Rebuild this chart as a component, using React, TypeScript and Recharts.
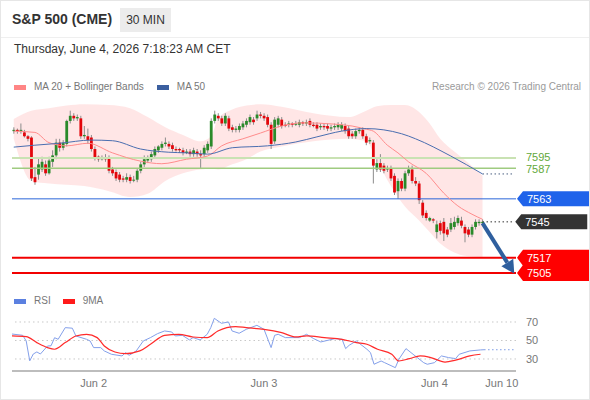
import React from "react";
import {
  ComposedChart,
  LineChart,
  Bar,
  Line,
  Area,
  XAxis,
  YAxis,
  ReferenceLine,
} from "recharts";

// 30-minute candles, oldest first
const opens = [
  7616, 7617, 7616, 7615, 7612, 7611, 7580, 7582, 7586, 7590, 7583, 7592, 7597, 7607, 7603, 7606, 7624, 7628, 7626, 7626,
  7612, 7612, 7611, 7602, 7596, 7594, 7595, 7595, 7586, 7584, 7582, 7579, 7578, 7580, 7578, 7578, 7585, 7590, 7593, 7594,
  7597, 7601, 7603, 7606, 7606, 7605, 7602, 7602, 7601, 7599, 7600, 7598, 7600, 7598, 7598, 7601, 7604, 7624, 7628, 7626,
  7622, 7626, 7619, 7617, 7617, 7619, 7621, 7623, 7625, 7626, 7629, 7628, 7627, 7621, 7608, 7621, 7625, 7621, 7621, 7622,
  7621, 7621, 7623, 7622, 7624, 7621, 7621, 7619, 7620, 7620, 7618, 7619, 7619, 7618, 7620, 7618, 7614, 7612, 7616, 7617,
  7612, 7608, 7607, 7586, 7591, 7589, 7586, 7587, 7581, 7569, 7577, 7571, 7583, 7586, 7577, 7575, 7560, 7552, 7546, 7547,
  7537, 7544, 7545, 7539, 7539, 7541, 7544, 7546, 7541, 7539, 7535, 7541, 7544, 7544,
];
const highs = [
  7619, 7618, 7622, 7617, 7613, 7612, 7588, 7595, 7596, 7593, 7596, 7601, 7610, 7610, 7609, 7625, 7632, 7630, 7629, 7628,
  7620, 7618, 7613, 7604, 7597, 7597, 7598, 7597, 7588, 7586, 7584, 7581, 7583, 7582, 7581, 7587, 7592, 7597, 7597, 7600,
  7604, 7605, 7608, 7611, 7608, 7607, 7604, 7603, 7603, 7602, 7602, 7603, 7602, 7601, 7605, 7608, 7626, 7632, 7630, 7628,
  7630, 7628, 7621, 7620, 7622, 7624, 7626, 7629, 7627, 7632, 7631, 7630, 7629, 7623, 7627, 7628, 7627, 7623, 7624, 7623,
  7624, 7625, 7624, 7625, 7626, 7623, 7623, 7622, 7622, 7622, 7621, 7622, 7623, 7623, 7622, 7620, 7616, 7618, 7619, 7619,
  7614, 7611, 7609, 7594, 7598, 7591, 7589, 7589, 7583, 7579, 7579, 7585, 7589, 7589, 7580, 7577, 7562, 7554, 7549, 7548,
  7546, 7546, 7548, 7541, 7548, 7549, 7550, 7549, 7543, 7541, 7543, 7547, 7547, 7547,
];
const lows = [
  7614, 7614, 7614, 7611, 7608, 7577, 7574, 7578, 7584, 7581, 7582, 7588, 7594, 7600, 7601, 7604, 7622, 7624, 7624, 7610,
  7610, 7606, 7600, 7593, 7592, 7593, 7592, 7583, 7581, 7577, 7576, 7576, 7576, 7575, 7576, 7576, 7583, 7588, 7591, 7592,
  7595, 7599, 7601, 7604, 7602, 7600, 7600, 7599, 7597, 7598, 7596, 7596, 7596, 7587, 7596, 7599, 7602, 7622, 7624, 7620,
  7620, 7616, 7615, 7615, 7615, 7617, 7619, 7621, 7621, 7624, 7626, 7624, 7619, 7602, 7606, 7619, 7618, 7619, 7619, 7619,
  7620, 7619, 7620, 7620, 7619, 7619, 7616, 7617, 7617, 7616, 7616, 7617, 7617, 7616, 7614, 7610, 7610, 7610, 7614, 7610,
  7605, 7606, 7575, 7584, 7584, 7583, 7584, 7577, 7566, 7563, 7569, 7569, 7581, 7575, 7573, 7559, 7548, 7546, 7545, 7544,
  7532, 7535, 7530, 7533, 7537, 7539, 7542, 7540, 7529, 7533, 7533, 7539, 7542, 7543,
];
const closes = [
  7617, 7616, 7617, 7612, 7610, 7579, 7576, 7590, 7592, 7583, 7593, 7597, 7607, 7603, 7607, 7624, 7628, 7626, 7627, 7612,
  7613, 7609, 7602, 7595, 7594, 7595, 7594, 7585, 7583, 7579, 7578, 7578, 7580, 7577, 7578, 7585, 7590, 7594, 7595, 7598,
  7602, 7604, 7606, 7607, 7604, 7602, 7601, 7601, 7599, 7600, 7598, 7601, 7598, 7597, 7603, 7606, 7624, 7629, 7626, 7622,
  7628, 7618, 7617, 7618, 7620, 7622, 7624, 7627, 7623, 7629, 7628, 7626, 7621, 7606, 7625, 7626, 7620, 7620, 7622, 7621,
  7622, 7623, 7622, 7623, 7621, 7620, 7618, 7620, 7619, 7618, 7619, 7620, 7621, 7621, 7616, 7612, 7612, 7616, 7617, 7612,
  7607, 7609, 7589, 7591, 7586, 7585, 7587, 7579, 7568, 7577, 7571, 7583, 7586, 7577, 7575, 7562, 7550, 7548, 7548, 7546,
  7543, 7538, 7536, 7535, 7544, 7545, 7548, 7542, 7536, 7535, 7541, 7545, 7545, 7545,
];

// slots on the time axis, including the empty ones after the last candle
const slotCount = 143;

// indicator readings as [slot, value]
const ma20Pts = [
  [0, 7616], [6, 7615], [10, 7607], [15, 7604.5], [21, 7606.5], [28, 7599], [36, 7592.5], [42, 7590.5],
  [49, 7594], [55, 7596.5], [59, 7604.5], [65, 7610], [70, 7614.5], [76, 7620], [82, 7622.5], [91, 7621.5],
  [96, 7620], [100, 7617.5], [102, 7616], [106, 7605], [109, 7599], [112, 7592], [117, 7583], [122, 7567.5],
  [126, 7557.5], [130, 7551], [133, 7547],
];
const ma50Pts = [
  [0, 7603.5], [6, 7605], [13, 7606.5], [22, 7609], [28, 7608.5], [36, 7602], [44, 7599.5], [49, 7599],
  [55, 7598], [62, 7603], [72, 7604.5], [80, 7607.5], [86, 7611.5], [93, 7616], [100, 7618], [110, 7614],
  [114, 7610], [124, 7596.5], [133, 7582.5],
];
const bbSlots = [0, 5, 10, 15, 20, 27, 33, 38, 43, 48, 53, 56, 58, 62, 66, 70, 76, 85, 95, 100, 103, 107, 111, 115, 118, 121, 125, 129, 133];
const bbUpper = [
  7625.5, 7632, 7634, 7636, 7637, 7636.5, 7634, 7627, 7619, 7613, 7608, 7612, 7626, 7633, 7636, 7637, 7635, 7630,
  7627, 7632, 7635.5, 7636.5, 7636.5, 7631, 7622, 7610, 7600, 7591, 7581,
];
const bbLower = [
  7610, 7577, 7575, 7574, 7573, 7569, 7564.5, 7567, 7577, 7583, 7586, 7586.5, 7586, 7590, 7594, 7600, 7604, 7608,
  7610, 7608, 7593, 7573, 7557, 7546, 7537, 7528, 7521, 7518, 7517.5,
];
const rsiPts = [
  [0, 57], [3, 55.6], [4, 49.5], [5, 28], [6, 35.4], [7, 37.6], [8, 35.4], [10, 44], [11, 44.3], [12, 53],
  [13, 51.3], [15, 63.9], [17, 63.3], [18, 54.9], [21, 51.3], [22, 49.5], [23, 42.3], [25, 42.3], [26, 38.7],
  [28, 35.1], [31, 33.3], [32, 36.9], [33, 34], [35, 38.7], [37, 49.5], [39, 53.1], [41, 57.4], [43, 60.3],
  [45, 59.2], [46, 54.9], [48, 55.6], [50, 50.6], [51, 53.1], [53, 50.6], [55, 56.7], [56, 63.9], [57, 74],
  [59, 68.6], [61, 70], [62, 60.3], [64, 57.8], [66, 62.1], [69, 66.4], [71, 62.1], [73, 42.3], [74, 55.6],
  [75, 56.7], [77, 53.1], [81, 53.1], [83, 56.7], [85, 52], [87, 48.4], [91, 52], [93, 51.3], [94, 41.2],
  [95, 44.8], [97, 49.5], [100, 40.5], [101, 36.9], [102, 24.3], [104, 27.8], [105, 26], [108, 20.6],
  [109, 29.7], [111, 41.2], [113, 35.1], [116, 26], [117, 24.3], [119, 26], [121, 33.3], [123, 31.5],
  [125, 30.4], [126, 35.1], [129, 38.7], [132, 39.8], [133, 40],
];
const rsiMaPts = [
  [0, 55], [4, 54.2], [7, 47.7], [10, 42.3], [12, 40.5], [15, 47.7], [18, 54.9], [21, 56.7], [24, 53.1],
  [26, 44], [29, 37.6], [32, 35.8], [36, 38.7], [39, 45.9], [43, 55.6], [47, 56.7], [51, 53.8], [55, 53.1],
  [58, 60.3], [63, 65], [66, 63.9], [71, 62.1], [76, 58.5], [80, 53.8], [83, 54.9], [88, 53.1], [93, 51.3],
  [97, 47.7], [100, 45.9], [103, 40.5], [107, 35.1], [109, 27.8], [112, 30.4], [115, 33.3], [118, 31.5],
  [122, 26.7], [125, 28.8], [129, 33.3], [132, 35.1],
];

const greenLevels = [7595, 7587];
const blueLevel = 7563;
const lastPrice = 7545;
const redLevels = [7517, 7505];
const arrowTarget = 7504.5;
const rsiLast = 40;

const priceDomain = [7494.8, 7643.5];
const rsiDomain = [17, 87.3];
const rsiTicks = [30, 50, 70];
const dayTickSlots = [23, 71, 119, 138];
const dayTickLabels = ["Jun 2", "Jun 3", "Jun 4", "Jun 10"];

const lastSlot = closes.length - 1;
const endSlot = slotCount - 1;

const rows: Record<string, any>[] = Array.from({ length: slotCount }, (_, i) => ({
  i,
  o: i < closes.length ? opens[i] : null,
  h: i < closes.length ? highs[i] : null,
  l: i < closes.length ? lows[i] : null,
  c: i < closes.length ? closes[i] : null,
  hl: i < closes.length ? [lows[i], highs[i]] : null,
}));
ma20Pts.forEach(([s, v]) => (rows[s].ma20 = v));
ma50Pts.forEach(([s, v]) => (rows[s].ma50 = v));
bbSlots.forEach((s, k) => (rows[s].bb = [bbLower[k], bbUpper[k]]));
rsiPts.forEach(([s, v]) => (rows[s].rsi = v));
rsiMaPts.forEach(([s, v]) => (rows[s].rsiMa = v));

const FONT = '"Liberation Sans", Arial, sans-serif';

function Candle(props: any) {
  const { x, y, width, height, payload } = props;
  if (!payload || payload.o == null) return null;
  const top = Math.min(y, y + height);
  const h = Math.abs(height);
  const span = payload.h - payload.l;
  const k = span > 0 ? h / span : 0;
  const cx = x + width / 2;
  const bodyTop = top + (payload.h - Math.max(payload.o, payload.c)) * k;
  const bodyH = Math.max(1, Math.abs(payload.o - payload.c) * k);
  const up = payload.c >= payload.o;
  return (
    <g>
      <line x1={cx} x2={cx} y1={top} y2={top + h} stroke="#8c8c8c" strokeWidth={1} />
      <rect x={cx - 1.4} y={bodyTop} width={2.8} height={bodyH} fill={up ? "#2a8a2a" : "#e3060b"} />
    </g>
  );
}

// right-hand price tag with a pointed left edge
const tag = (text: string, fill: string, half = 7.5) => (props: any) => {
  const vb = props.viewBox;
  if (!vb) return null;
  const x0 = vb.x + vb.width + 1;
  const y0 = vb.y;
  return (
    <g>
      <polygon
        points={`${x0},${y0} ${x0 + 6},${y0 - half} ${x0 + 72},${y0 - half} ${x0 + 72},${y0 + half} ${x0 + 6},${y0 + half}`}
        fill={fill}
      />
      <text x={x0 + 10} y={y0 + 4} fill="#fff" fontSize={11} fontFamily={FONT}>
        {text}
      </text>
    </g>
  );
};

const greenText = (text: string, shift: number) => (props: any) => {
  const vb = props.viewBox;
  if (!vb) return null;
  return (
    <text x={vb.x + vb.width + 10} y={vb.y + 4 + shift} fill="#62a83a" fontSize={11} fontFamily={FONT}>
      {text}
    </text>
  );
};

function Arrow(props: any) {
  const { x1, y1, x2, y2 } = props;
  if (x1 == null) return null;
  const dx = x2 - x1;
  const dy = y2 - y1;
  const len = Math.sqrt(dx * dx + dy * dy);
  const ux = dx / len;
  const uy = dy / len;
  const head = 13;
  const bx = x2 - ux * head;
  const by = y2 - uy * head;
  const px = -uy * 7;
  const py = ux * 7;
  return (
    <g>
      <line x1={x1} y1={y1} x2={bx} y2={by} stroke="#2f5f9e" strokeWidth={4} />
      <polygon points={`${x2},${y2} ${bx + px},${by + py} ${bx - px},${by - py}`} fill="#2f5f9e" />
    </g>
  );
}

function Swatch({ color }: { color: string }) {
  return <span style={{ display: "inline-block", width: 12, height: 5, background: color, marginRight: 8, verticalAlign: "middle" }} />;
}

export default function App() {
  return (
    <div
      style={{
        position: "relative",
        width: 590,
        height: 400,
        boxSizing: "border-box",
        border: "1px solid #e6e6e6",
        background: "#fff",
        fontFamily: FONT,
        overflow: "hidden",
      }}
    >
      <style>{"body{margin:0}"}</style>
      <div style={{ position: "absolute", left: 0, top: 0, width: 590, height: 36, borderBottom: "1px solid #efefef" }} />
      <div style={{ position: "absolute", left: 11, top: 10, fontSize: 14, fontWeight: "bold", color: "#333" }}>S&amp;P 500 (CME)</div>
      <div
        style={{
          position: "absolute",
          left: 119,
          top: 7,
          width: 51,
          height: 24,
          background: "#ececec",
          color: "#333",
          fontSize: 12,
          lineHeight: "24px",
          textAlign: "center",
        }}
      >
        30 MIN
      </div>
      <div style={{ position: "absolute", left: 13, top: 41, fontSize: 12, color: "#333" }}>
        Thursday, June 4, 2026 7:18:23 AM CET
      </div>
      <div style={{ position: "absolute", left: 13, top: 80, fontSize: 10, color: "#777", whiteSpace: "nowrap" }}>
        <Swatch color="#ff8585" />
        MA 20 + Bollinger Bands
        <span style={{ display: "inline-block", width: 13 }} />
        <Swatch color="#3b5f9f" />
        MA 50
      </div>
      <div style={{ position: "absolute", right: 8, top: 80, fontSize: 10, color: "#9a9a9a" }}>
        Research © 2026 Trading Central
      </div>

      <div style={{ position: "absolute", left: 0, top: 90 }}>
        <ComposedChart width={590} height={200} data={rows} margin={{ top: 5, right: 75, bottom: 5, left: 11 }}>
          <XAxis dataKey="i" type="category" hide />
          <YAxis hide domain={priceDomain} type="number" allowDataOverflow />
          <Area
            dataKey="bb"
            type="monotone"
            connectNulls
            stroke="none"
            fill="#ffdede"
            fillOpacity={0.75}
            isAnimationActive={false}
          />
          <ReferenceLine y={greenLevels[0]} stroke="#c9e2b3" strokeWidth={2} label={greenText(String(greenLevels[0]), -1)} />
          <ReferenceLine y={greenLevels[1]} stroke="#9fcb80" strokeWidth={1.5} label={greenText(String(greenLevels[1]), 1)} />
          <ReferenceLine y={blueLevel} stroke="#2a66d9" strokeWidth={1} label={tag(String(blueLevel), "#1f63ea")} />
          <ReferenceLine y={redLevels[0]} stroke="#f20000" strokeWidth={2} label={tag(String(redLevels[0]), "#ff0000", 8)} />
          <ReferenceLine y={redLevels[1]} stroke="#f20000" strokeWidth={2} label={tag(String(redLevels[1]), "#ff0000", 8)} />
          <ReferenceLine
            segment={[{ x: lastSlot, y: lastPrice }, { x: endSlot, y: lastPrice }]}
            stroke="#333"
            strokeDasharray="1.5 2.5"
            label={tag(String(lastPrice), "#333333")}
          />
          <ReferenceLine
            segment={[{ x: lastSlot, y: ma50Pts[ma50Pts.length - 1][1] }, { x: endSlot, y: ma50Pts[ma50Pts.length - 1][1] }]}
            stroke="#4a5f80"
            strokeDasharray="1.5 2.5"
          />
          <Line dataKey="ma20" type="monotone" connectNulls dot={false} stroke="#ff8c8c" strokeWidth={1} isAnimationActive={false} />
          <Line dataKey="ma50" type="monotone" connectNulls dot={false} stroke="#4a6eb0" strokeWidth={1} isAnimationActive={false} />
          <Bar dataKey="hl" shape={Candle} isAnimationActive={false} />
          <ReferenceLine
            segment={[{ x: lastSlot, y: lastPrice - 1 }, { x: endSlot, y: arrowTarget }]}
            shape={Arrow}
            ifOverflow="visible"
          />
        </ComposedChart>
      </div>

      <div style={{ position: "absolute", left: 13, top: 294, fontSize: 10, color: "#777", whiteSpace: "nowrap" }}>
        <Swatch color="#5b80e0" />
        RSI
        <span style={{ display: "inline-block", width: 12 }} />
        <Swatch color="#ff1a1a" />
        9MA
      </div>

      <div style={{ position: "absolute", left: 0, top: 300 }}>
        <LineChart width={590} height={100} data={rows} margin={{ top: 5, right: 0, bottom: 0, left: 11 }}>
          <XAxis
            dataKey="i"
            type="category"
            height={30}
            ticks={dayTickSlots}
            interval={0}
            tickFormatter={(v: any) => dayTickLabels[dayTickSlots.indexOf(Number(v))] ?? ""}
            tickLine={false}
            axisLine={{ stroke: "#bdbdbd", strokeWidth: 2 }}
            tick={{ fontSize: 11, fill: "#777", fontFamily: FONT }}
          />
          <YAxis
            orientation="right"
            width={75}
            domain={rsiDomain}
            type="number"
            allowDataOverflow
            ticks={rsiTicks}
            axisLine={false}
            tickLine={false}
            tickMargin={4}
            tick={{ fontSize: 11, fill: "#777", fontFamily: FONT }}
          />
          {rsiTicks.map((t) => (
            <ReferenceLine key={t} y={t} stroke="#c8c8c8" strokeDasharray="1.5 3" />
          ))}
          <ReferenceLine
            segment={[{ x: lastSlot, y: rsiLast }, { x: endSlot, y: rsiLast }]}
            stroke="#7b9be6"
            strokeDasharray="1.5 2.5"
          />
          <Line dataKey="rsi" type="linear" connectNulls dot={false} stroke="#84a0ea" strokeWidth={1} isAnimationActive={false} />
          <Line dataKey="rsiMa" type="monotone" connectNulls dot={false} stroke="#ff2b2b" strokeWidth={1.2} isAnimationActive={false} />
        </LineChart>
      </div>
    </div>
  );
}
